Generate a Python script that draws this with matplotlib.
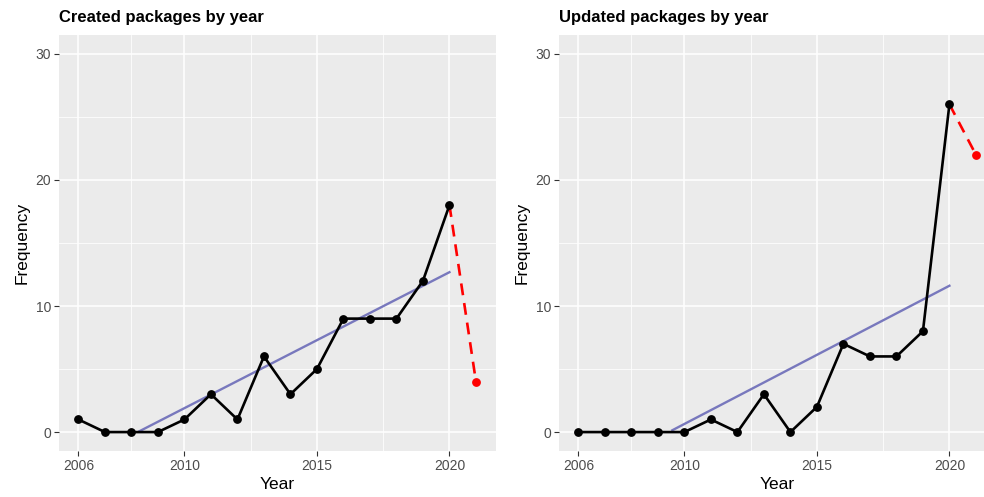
import numpy as np
import matplotlib
matplotlib.use("Agg")
import matplotlib.pyplot as plt

plt.rcParams['font.family'] = ['Liberation Sans', 'DejaVu Sans']

years = list(range(2006, 2021))
created = [1, 0, 0, 0, 1, 3, 1, 6, 3, 5, 9, 9, 9, 12, 18]
updated = [0, 0, 0, 0, 0, 1, 0, 3, 0, 2, 7, 6, 6, 8, 26]
forecast_year = 2021
created_2021 = 4
updated_2021 = 22

panel_bg = '#EBEBEB'
trend_col = (0.47, 0.47, 0.74)


def draw_panel(ax, x, y, y_next, title):
    ax.set_facecolor(panel_bg)
    for s in ax.spines.values():
        s.set_visible(False)

    # grid: major + ggplot-style minor breaks
    for v in [2006, 2010, 2015, 2020]:
        ax.axvline(v, color='white', lw=1.1, zorder=0)
    for v in [2008, 2012.5, 2017.5]:
        ax.axvline(v, color='white', lw=0.55, zorder=0)
    for v in [0, 10, 20, 30]:
        ax.axhline(v, color='white', lw=1.1, zorder=0)
    for v in [5, 15, 25]:
        ax.axhline(v, color='white', lw=0.55, zorder=0)

    # linear trend, values below zero dropped
    slope, icpt = np.polyfit(x, y, 1)
    xs = np.linspace(x[0], x[-1], 80)
    ys = slope * xs + icpt
    keep = ys >= 0
    ax.plot(xs[keep], ys[keep], color=trend_col, lw=1.7, zorder=2)

    # current year projection
    ax.plot([x[-1], forecast_year], [y[-1], y_next], color='red', lw=1.9,
            ls=(0, (4.5, 3)), zorder=3)
    ax.plot([forecast_year], [y_next], 'o', color='red', ms=5.3, zorder=4)

    ax.plot(x, y, color='black', lw=1.9, zorder=4)
    ax.plot(x, y, 'o', color='black', ms=5.3, zorder=5)

    ax.set_xlim(2005.25, 2021.75)
    ax.set_ylim(-1.5, 31.5)
    ax.set_xticks([2006, 2010, 2015, 2020])
    ax.set_yticks([0, 10, 20, 30])
    ax.tick_params(colors='#333333', labelcolor='#4D4D4D', labelsize=10,
                   length=3.5, width=0.8, pad=2)
    ax.set_xlabel('Year', fontsize=12.5, labelpad=3)
    ax.set_ylabel('Frequency', fontsize=12.5, labelpad=4)
    ax.set_title(title, fontsize=12, fontweight='bold', loc='left', pad=9)


fig = plt.figure(figsize=(9.84, 4.97), dpi=100)
ax1 = fig.add_axes([0.0595, 0.0926, 0.4444, 0.837])
ax2 = fig.add_axes([0.5676, 0.0926, 0.4444, 0.837])

draw_panel(ax1, years, created, created_2021, 'Created packages by year')
draw_panel(ax2, years, updated, updated_2021, 'Updated packages by year')

fig.savefig('out.png', dpi=100)
